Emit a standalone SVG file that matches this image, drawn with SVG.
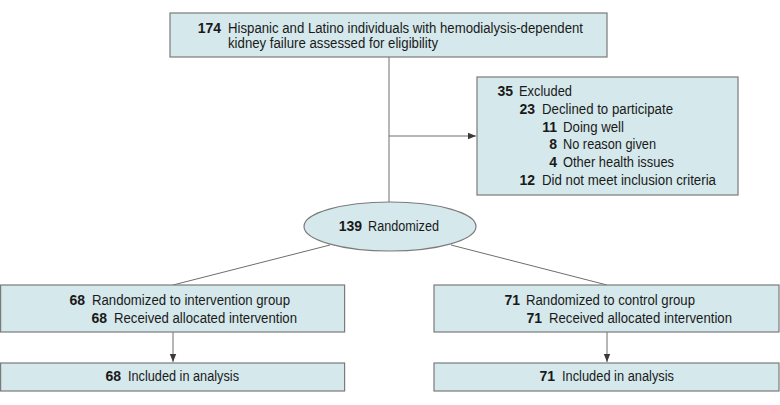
<svg xmlns="http://www.w3.org/2000/svg" width="780" height="405" viewBox="0 0 780 405">
<style>
.box{fill:#d5e8eb;stroke:#7b7b7b;stroke-width:1.2}
text{font-family:"Liberation Sans",Arial,sans-serif;font-size:14px;fill:#1a1a1a}
.n{font-weight:bold;text-anchor:end}
.c{stroke:#6e6e6e;stroke-width:1;fill:none}
</style>
<defs>
<marker id="ah" viewBox="0 0 10 10" refX="10" refY="5" markerWidth="8" markerHeight="8" markerUnits="userSpaceOnUse" orient="auto">
<path d="M0,1 L10,5 L0,9 Z" fill="#3a3a3a"/>
</marker>
</defs>
<rect width="780" height="405" fill="#fff"/>
<g id="connectors">
<line class="c" x1="389" y1="57" x2="389" y2="202"/>
<line class="c" x1="389" y1="136" x2="476" y2="136" marker-end="url(#ah)"/>
<line class="c" x1="330" y1="245" x2="173" y2="285"/>
<line class="c" x1="451" y1="245" x2="607" y2="285"/>
<line class="c" x1="173" y1="332" x2="173" y2="362" marker-end="url(#ah)"/>
<line class="c" x1="607" y1="332" x2="607" y2="362" marker-end="url(#ah)"/>
</g>
<g id="assessed">
<rect class="box" x="170" y="13" width="437" height="44"/>
<text class="n" x="221" y="33">174</text>
<text x="228" y="33" textLength="355" lengthAdjust="spacingAndGlyphs">Hispanic and Latino individuals with hemodialysis-dependent</text>
<text x="228" y="48" textLength="210" lengthAdjust="spacingAndGlyphs">kidney failure assessed for eligibility</text>
</g>
<g id="excluded">
<rect class="box" x="477" y="77" width="261" height="118"/>
<text class="n" x="513" y="96">35</text><text x="519" y="96" textLength="53" lengthAdjust="spacingAndGlyphs">Excluded</text>
<text class="n" x="535" y="114">23</text><text x="542" y="114" textLength="131" lengthAdjust="spacingAndGlyphs">Declined to participate</text>
<text class="n" x="557" y="132">11</text><text x="563" y="132" textLength="61" lengthAdjust="spacingAndGlyphs">Doing well</text>
<text class="n" x="557" y="149">8</text><text x="563" y="149" textLength="93" lengthAdjust="spacingAndGlyphs">No reason given</text>
<text class="n" x="557" y="167">4</text><text x="563" y="167" textLength="111" lengthAdjust="spacingAndGlyphs">Other health issues</text>
<text class="n" x="535" y="185">12</text><text x="542" y="185" textLength="174" lengthAdjust="spacingAndGlyphs">Did not meet inclusion criteria</text>
</g>
<g id="randomized">
<ellipse class="box" cx="390" cy="226.5" rx="86" ry="24.5"/>
<text class="n" x="362" y="231">139</text><text x="368" y="231" textLength="71" lengthAdjust="spacingAndGlyphs">Randomized</text>
</g>
<g id="intervention">
<rect class="box" x="0.6" y="285" width="344" height="47"/>
<text class="n" x="85" y="305">68</text><text x="92" y="305" textLength="198" lengthAdjust="spacingAndGlyphs">Randomized to intervention group</text>
<text class="n" x="107" y="323">68</text><text x="114" y="323" textLength="183" lengthAdjust="spacingAndGlyphs">Received allocated intervention</text>
</g>
<g id="control">
<rect class="box" x="434" y="285" width="345" height="47"/>
<text class="n" x="520" y="305">71</text><text x="526" y="305" textLength="169" lengthAdjust="spacingAndGlyphs">Randomized to control group</text>
<text class="n" x="542" y="323">71</text><text x="549" y="323" textLength="183" lengthAdjust="spacingAndGlyphs">Received allocated intervention</text>
</g>
<g id="analysis-intervention">
<rect class="box" x="0.6" y="363" width="344" height="28"/>
<text class="n" x="121" y="381">68</text><text x="128" y="381" textLength="111" lengthAdjust="spacingAndGlyphs">Included in analysis</text>
</g>
<g id="analysis-control">
<rect class="box" x="434" y="363" width="345" height="28"/>
<text class="n" x="555" y="381">71</text><text x="562" y="381" textLength="112" lengthAdjust="spacingAndGlyphs">Included in analysis</text>
</g>
</svg>
